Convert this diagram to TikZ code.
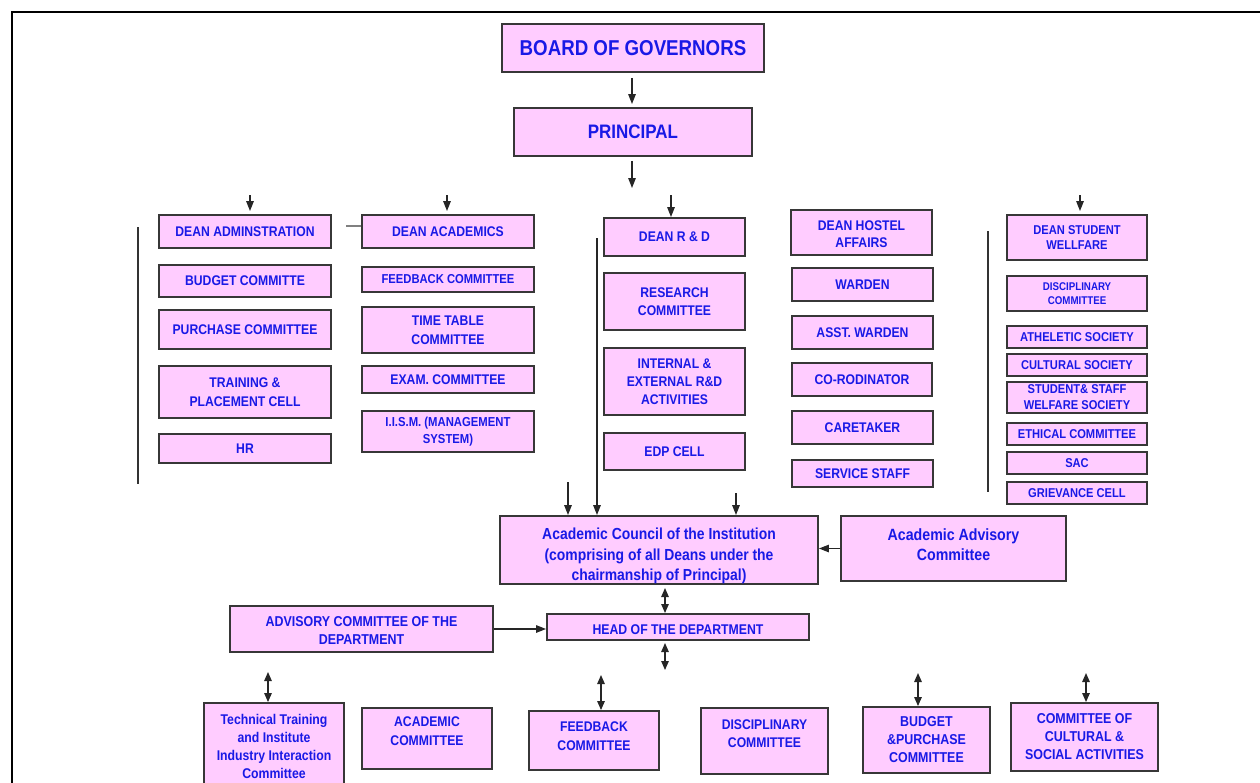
\documentclass[tikz,border=0pt]{standalone}
\usepackage{fontspec}
\setmainfont{Liberation Sans}
\newfontfamily\nar[FakeStretch=0.87]{Liberation Sans}
\usetikzlibrary{arrows.meta,calc}
\definecolor{boxpink}{RGB}{255,204,255}
\definecolor{txtblue}{RGB}{25,25,230}
\definecolor{edge}{RGB}{55,55,55}
\newcommand\fs[2]{\nar\bfseries\fontsize{#1}{#2}\selectfont}
\newcommand\mv[2]{\raisebox{#1}[\height][\depth]{\begin{tabular}{@{}c@{}}#2\end{tabular}}}
\tikzset{
  box/.style={draw=edge,line width=1.9pt,fill=boxpink,text=txtblue,align=center,inner sep=0pt,
    font=\fs{14}{18}},
  arr/.style={-{Triangle[length=10pt,width=7.5pt]},line width=1.3pt,draw=black!85},
  darr/.style={{Triangle[length=9pt,width=7.5pt]}-{Triangle[length=9pt,width=7.5pt]},line width=1.3pt,draw=black!85},
  vline/.style={line width=1.3pt,draw=black!80},
}
\newcommand\bx[7][]{\node[box,minimum width={#4-#3},minimum height={#6-#5},#1] (#2) at ({(#3+#4)/2},{(#5+#6)/2}) {#7};}
\begin{document}
\begin{tikzpicture}[x=1pt,y=-1pt]
\useasboundingbox (0,0) rectangle (1260,782);
\begin{scope}
\clip (0,0) rectangle (1260,782);
% frame
\draw[line width=1.4pt] (12,790) -- (12,12) -- (1270,12);
% top
\bx[font=\fs{21.5}{24}]{bog}{502}{764}{24}{72}{BOARD OF GOVERNORS}
\bx[font=\fs{19.5}{22}]{prin}{514}{752}{108}{156}{PRINCIPAL}
% column 1
\bx{dadm}{159}{331}{215}{248}{DEAN ADMINSTRATION}
\bx{budget}{159}{331}{265}{297}{BUDGET COMMITTE}
\bx{purch}{159}{331}{310}{349}{PURCHASE COMMITTEE}
\bx[font=\fs{14}{18.5}]{tpc}{159}{331}{366}{418}{TRAINING \&\\PLACEMENT CELL}
\bx{hr}{159}{331}{434}{463}{HR}
% column 2
\bx{dacad}{362}{534}{215}{248}{DEAN ACADEMICS}
\bx[font=\fs{12.9}{15}]{fbc}{362}{534}{267}{292}{FEEDBACK COMMITTEE}
\bx[font=\fs{14}{18.5}]{ttc}{362}{534}{307}{353}{TIME TABLE\\COMMITTEE}
\bx{exam}{362}{534}{366}{393}{EXAM. COMMITTEE}
\bx[font=\fs{13}{16.5}]{iism}{362}{534}{411}{452}{I.I.S.M. (MANAGEMENT\\SYSTEM)}
% column 3
\bx{drd}{604}{745}{218}{256}{DEAN R \& D}
\bx[font=\fs{14}{18.5}]{rc}{604}{745}{273}{330}{RESEARCH\\COMMITTEE}
\bx{ierd}{604}{745}{348}{415}{INTERNAL \&\\EXTERNAL R\&D\\ACTIVITIES}
\bx{edp}{604}{745}{433}{470}{EDP CELL}
% column 4
\bx[font=\fs{14}{17.5}]{dha}{791}{932}{210}{255}{\mv{-3pt}{DEAN HOSTEL\\AFFAIRS}}
\bx{warden}{792}{933}{268}{301}{WARDEN}
\bx{asst}{792}{933}{316}{349}{ASST. WARDEN}
\bx{coord}{792}{932}{363}{396}{CO-RODINATOR}
\bx{care}{792}{933}{411}{444}{CARETAKER}
\bx{serv}{792}{933}{460}{487}{SERVICE STAFF}
% column 5
\bx[font=\fs{12.8}{15.5}]{dsw}{1007}{1147}{215}{260}{DEAN STUDENT\\WELLFARE}
\bx[font=\fs{11.2}{13.5}]{disc}{1007}{1147}{276}{311}{DISCIPLINARY\\COMMITTEE}
\bx[font=\fs{12.8}{15}]{ath}{1007}{1147}{326}{348}{ATHELETIC SOCIETY}
\bx[font=\fs{12.8}{15}]{cult}{1007}{1147}{354}{376}{CULTURAL SOCIETY}
\bx[font=\fs{12.8}{16}]{ssw}{1007}{1147}{382}{413}{STUDENT\& STAFF\\WELFARE SOCIETY}
\bx[font=\fs{12.8}{15}]{eth}{1007}{1147}{423}{445}{ETHICAL COMMITTEE}
\bx[font=\fs{12.8}{15}]{sac}{1007}{1147}{452}{474}{SAC}
\bx[font=\fs{12.8}{15}]{griev}{1007}{1147}{482}{504}{GRIEVANCE CELL}
% council
\bx[font=\fs{16}{20.5}]{acc}{500}{818}{516}{584}{\mv{-6pt}{Academic Council of the Institution\\(comprising of all Deans under the\\chairmanship of Principal)}}
\bx[font=\fs{16.3}{20}]{aac}{841}{1066}{516}{581}{\mv{2pt}{Academic Advisory\\Committee}}
\bx[font=\fs{14.1}{16}]{hod}{547}{809}{614}{640}{\raisebox{-3pt}[\height][\depth]{HEAD OF THE DEPARTMENT}}
\bx[font=\fs{14.3}{17.7}]{acd}{230}{493}{606}{652}{\mv{-3pt}{ADVISORY COMMITTEE OF THE\\DEPARTMENT}}
% bottom
\bx[font=\fs{14.1}{18}]{tt}{204}{344}{703}{790}{Technical Training\\and Institute\\Industry Interaction\\Committee}
\bx[font=\fs{14}{19}]{acom}{362}{492}{708}{769}{\mv{6pt}{ACADEMIC\\COMMITTEE}}
\bx[font=\fs{14}{18.5}]{fcom}{529}{659}{711}{770}{\mv{3pt}{FEEDBACK\\COMMITTEE}}
\bx[font=\fs{14}{18.5}]{dcom}{701}{828}{708}{774}{\mv{6pt}{DISCIPLINARY\\COMMITTEE}}
\bx[font=\fs{14.3}{18}]{bpc}{863}{990}{707}{773}{BUDGET\\\&PURCHASE\\COMMITTEE}
\bx[font=\fs{14.3}{18}]{ccsa}{1011}{1158}{703}{771}{COMMITTEE OF\\CULTURAL \&\\SOCIAL ACTIVITIES}
% coordinates for free ends
\coordinate (p0) at (632,77);
\coordinate (p1) at (632,188);
\coordinate (t1) at (250,195);
\coordinate (t2) at (447,195);
\coordinate (t3) at (671,195);
\coordinate (t4) at (1080,195);
\coordinate (g1) at (346,226);
\coordinate (v1a) at (138,227);
\coordinate (v1b) at (138,484);
\coordinate (v3a) at (597,238);
\coordinate (v5a) at (988,231);
\coordinate (v5b) at (988,492);
\coordinate (u1) at (568,482);
\coordinate (u3) at (736,493);
\coordinate (h1) at (665,588);
\coordinate (h2) at (665,613);
\coordinate (h3) at (665,643);
\coordinate (h4) at (665,670);
\coordinate (b1) at (268,672);
\coordinate (b2) at (601,675);
\coordinate (b3) at (918,673);
\coordinate (b4) at (1086,673);
% connectors
\draw[arr] ([yshift=-5pt]p0 |- bog.south) -- ([yshift=3pt]p0 |- prin.north);
\draw[arr] ([yshift=-4pt]p1 |- prin.south) -- (p1);
\draw[arr] (t1) -- ([yshift=3pt]t1 |- dadm.north);
\draw[arr] (t2) -- ([yshift=3pt]t2 |- dacad.north);
\draw[arr] (t3) -- (t3 |- drd.north);
\draw[arr] (t4) -- ([yshift=3pt]t4 |- dsw.north);
\draw[line width=1.4pt,draw=gray] (g1) -- (g1 -| dacad.west);
\draw[vline] (v1a) -- (v1b);
\draw[vline] (v5a) -- (v5b);
\draw[arr] (v3a) -- (v3a |- acc.north);
\draw[arr] (u1) -- (u1 |- acc.north);
\draw[arr] (u3) -- (u3 |- acc.north);
\draw[arr] (aac.west) -- (aac.west -| acc.east);
\draw[darr] (h1) -- (h2);
\draw[arr] (acd.east) -- (acd.east -| hod.west);
\draw[darr] (h3) -- (h4);
\draw[darr] (b1) -- (b1 |- tt.north);
\draw[darr] (b2) -- (b2 |- fcom.north);
\draw[darr] (b3) -- (b3 |- bpc.north);
\draw[darr] (b4) -- (b4 |- ccsa.north);
\end{scope}
\end{tikzpicture}
\end{document}
